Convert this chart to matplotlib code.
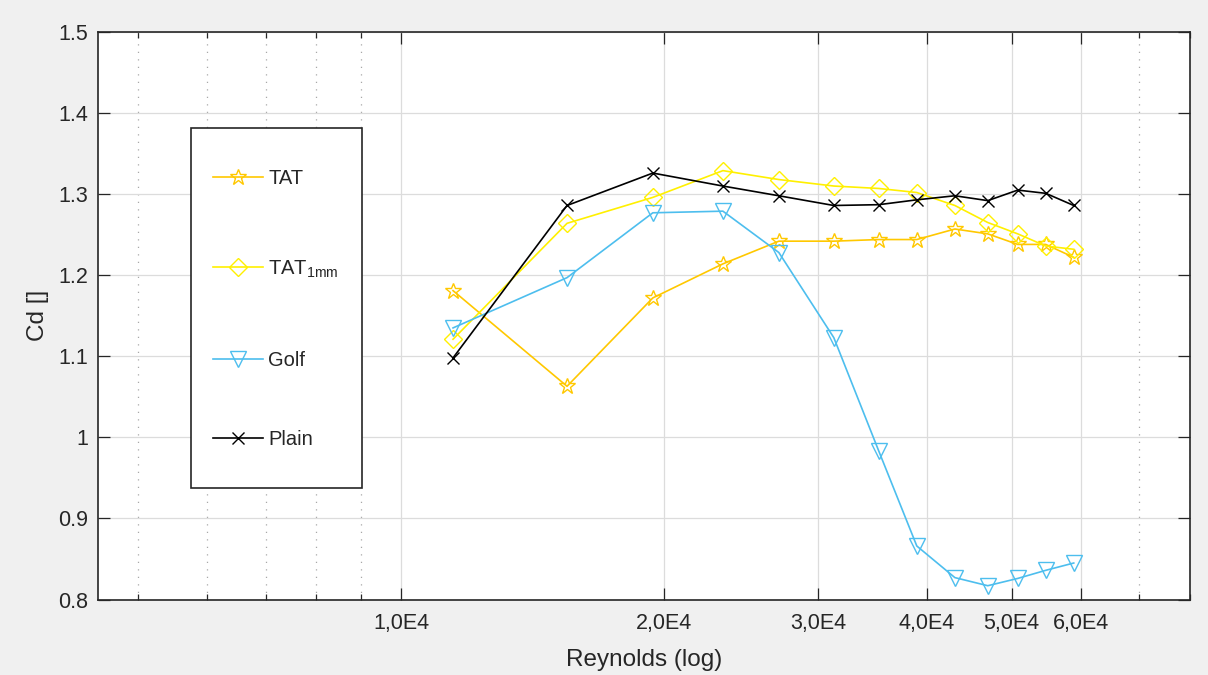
import matplotlib
matplotlib.use('Agg')
import matplotlib.pyplot as plt
from matplotlib.lines import Line2D
from matplotlib.patches import Rectangle
from matplotlib.ticker import FixedLocator, FixedFormatter, NullFormatter

plt.rcParams['font.family'] = ['Liberation Sans', 'DejaVu Sans']
plt.rcParams['mathtext.fontset'] = 'custom'
plt.rcParams['mathtext.rm'] = 'Liberation Sans'
plt.rcParams['mathtext.it'] = 'Liberation Sans:italic'

# Reynolds numbers of the runs
re = [1.147e4, 1.549e4, 1.942e4, 2.336e4, 2.707e4, 3.129e4, 3.523e4,
      3.894e4, 4.305e4, 4.695e4, 5.081e4, 5.470e4, 5.889e4]

# drag coefficients
cd_tat = [1.181, 1.063, 1.172, 1.214, 1.242, 1.242, 1.244,
          1.244, 1.257, 1.251, 1.238, 1.238, 1.222]
cd_tat1mm = [1.121, 1.264, 1.296, 1.329, 1.318, 1.310, 1.307,
             1.302, 1.286, 1.265, 1.251, 1.236, 1.232]
cd_golf = [1.135, 1.197, 1.277, 1.279, 1.228, 1.123, 0.983,
           0.866, 0.827, 0.817, 0.826, 0.836, 0.845]
cd_plain = [1.098, 1.286, 1.326, 1.310, 1.298, 1.286, 1.287,
            1.293, 1.298, 1.292, 1.305, 1.301, 1.286]

labels = ['TAT', r'TAT$_{\mathregular{1mm}}$', 'Golf', 'Plain']

x_major = [1e4, 2e4, 3e4, 4e4, 5e4, 6e4]
x_major_labels = ['1,0E4', '2,0E4', '3,0E4', '4,0E4', '5,0E4', '6,0E4']
x_minor = [5e3, 6e3, 7e3, 8e3, 9e3, 7e4, 8e4]
y_ticks = [0.8, 0.9, 1.0, 1.1, 1.2, 1.3, 1.4, 1.5]
y_tick_labels = ['0.8', '0.9', '1', '1.1', '1.2', '1.3', '1.4', '1.5']

txt = '#262626'

fig = plt.figure(figsize=(12.08, 6.75), dpi=100, facecolor='#f0f0f0')
ax = fig.add_axes([98 / 1208, 1 - 599.5 / 675, 1092 / 1208, 567.5 / 675])

estilos = [
    dict(color='#FFC800', marker='*', ms=12),
    dict(color='#FFF000', marker='D', ms=9.5),
    dict(color='#4DBEEE', marker='v', ms=11),
    dict(color='black', marker='x', ms=9),
]

for y, st in zip([cd_tat, cd_tat1mm, cd_golf, cd_plain], estilos):
    ax.plot(re, y, color=st['color'], lw=1.2, marker=st['marker'],
            ms=st['ms'], mfc='none', mec=st['color'], mew=1.0)

ax.set_xscale('log')
ax.set_xlim(4.5e3, 8.0e4)
ax.set_ylim(0.8, 1.5)
ax.xaxis.set_major_locator(FixedLocator(x_major))
ax.xaxis.set_major_formatter(FixedFormatter(x_major_labels))
ax.xaxis.set_minor_locator(FixedLocator(x_minor))
ax.xaxis.set_minor_formatter(NullFormatter())
ax.set_yticks(y_ticks)
ax.set_yticklabels(y_tick_labels)

ax.set_axisbelow(True)
ax.grid(which='major', color='#dcdcdc', lw=0.9, ls='-')
ax.grid(which='minor', axis='x', color='#a8a8a8', lw=0.9, ls=(0, (1, 5)))

ax.tick_params(which='both', direction='in', top=True, right=True,
               colors=txt, labelsize=15.5, width=0.9)
ax.tick_params(which='major', length=8.5)
ax.tick_params(axis='y', which='major', pad=7)
ax.tick_params(axis='x', which='major', pad=10)
ax.tick_params(which='minor', length=4.5)
for s in ax.spines.values():
    s.set_color(txt)
    s.set_linewidth(1.2)

ax.set_xlabel('Reynolds (log)', fontsize=17.5, color=txt)
ax.set_ylabel('Cd []', fontsize=17.5, color=txt)
ax.xaxis.set_label_coords(0.5, -0.088)
ax.yaxis.set_label_coords(-0.045, 0.5)

# leyenda dibujada a mano
ax.add_patch(Rectangle((0.0852, 0.1965), 0.1566, 0.6343, transform=ax.transAxes,
                       facecolor='white', edgecolor=txt, lw=1.2, zorder=5))
filas = [0.7445, 0.5859, 0.4238, 0.2846]
for fy, lab, st in zip(filas, labels, estilos):
    ax.add_line(Line2D([0.1053, 0.1511], [fy, fy], transform=ax.transAxes,
                       color=st['color'], lw=1.2, zorder=6))
    ax.add_line(Line2D([0.1282], [fy], transform=ax.transAxes, ls='none',
                       marker=st['marker'], ms=st['ms'], mfc='none',
                       mec=st['color'], mew=1.0, zorder=6))
    ax.text(0.1557, fy, lab, transform=ax.transAxes, fontsize=14.5, color=txt,
            va='center_baseline', ha='left', zorder=7)

fig.savefig('out.png', dpi=100, facecolor=fig.get_facecolor())
